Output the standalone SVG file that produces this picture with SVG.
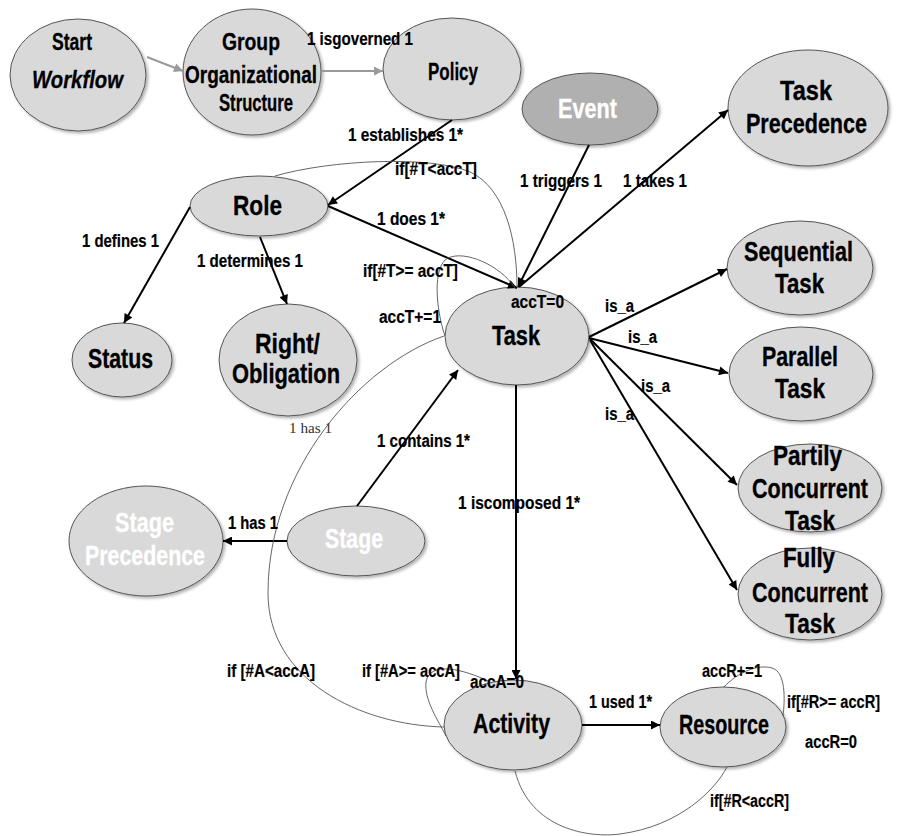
<svg xmlns="http://www.w3.org/2000/svg" width="904" height="836" viewBox="0 0 904 836">
<defs>
<style>
.nd{fill:#d9d9d9;stroke:#555;stroke-width:1;filter:url(#sh)}
.ev{fill:#b0b0b0;stroke:#555;stroke-width:1;filter:url(#sh)}
text{font-family:"Liberation Sans Narrow","Liberation Sans",Arial,sans-serif;font-weight:bold}
.n{font-size:28px;fill:#000;stroke:#000;stroke-width:0.35}
.ns{font-size:24px;fill:#000;stroke:#000;stroke-width:0.3}
.w{font-size:28px;fill:#fff;stroke:#fff;stroke-width:0.35}
.e{font-size:17.5px;fill:#000;stroke:#000;stroke-width:0.2}
.ser{font-family:"Liberation Serif","Times New Roman",serif;font-weight:normal;font-size:15px;fill:#333}
.a{fill:none;stroke:#000;stroke-width:2}
.g{fill:none;stroke:#9a9a9a;stroke-width:2}
.t{fill:none;stroke:#555;stroke-width:0.9}
</style>
<filter id="sh" x="-10%" y="-10%" width="125%" height="130%">
<feDropShadow dx="2" dy="2" stdDeviation="1.5" flood-color="#000" flood-opacity="0.3"/>
</filter>
<marker id="ar" viewBox="0 0 10 10" refX="10" refY="5" markerUnits="userSpaceOnUse" markerWidth="11" markerHeight="9" orient="auto">
<path d="M0,0 L10,5 L0,10 z" fill="#000"/>
</marker>
<marker id="ag" viewBox="0 0 10 10" refX="10" refY="5" markerUnits="userSpaceOnUse" markerWidth="11" markerHeight="9" orient="auto">
<path d="M0,0 L10,5 L0,10 z" fill="#9a9a9a"/>
</marker>
</defs>

<g id="start"><ellipse class="nd" cx="78" cy="75" rx="68" ry="56"/>
<text class="ns" x="52" y="50" textLength="40" lengthAdjust="spacingAndGlyphs">Start</text>
<text class="ns" x="32" y="88" font-style="italic" textLength="91" lengthAdjust="spacingAndGlyphs">Workflow</text></g>

<g id="group"><ellipse class="nd" cx="252" cy="72" rx="69" ry="63"/>
<text class="ns" x="222" y="50" textLength="58" lengthAdjust="spacingAndGlyphs">Group</text>
<text class="ns" x="185" y="83" textLength="132" lengthAdjust="spacingAndGlyphs">Organizational</text>
<text class="ns" x="219" y="111" textLength="74" lengthAdjust="spacingAndGlyphs">Structure</text></g>

<g id="policy"><ellipse class="nd" cx="452" cy="69" rx="69" ry="51"/>
<text class="ns" x="428" y="80" textLength="50" lengthAdjust="spacingAndGlyphs">Policy</text></g>

<g id="event"><ellipse class="ev" cx="590" cy="109" rx="68" ry="36"/>
<text class="w" x="558" y="118" textLength="59" lengthAdjust="spacingAndGlyphs">Event</text></g>

<g id="taskprecedence"><ellipse class="nd" cx="808" cy="108" rx="80" ry="58"/>
<text class="n" x="780" y="100" textLength="52" lengthAdjust="spacingAndGlyphs">Task</text>
<text class="n" x="746" y="133" textLength="121" lengthAdjust="spacingAndGlyphs">Precedence</text></g>

<g id="role"><ellipse class="nd" cx="259" cy="206" rx="69" ry="30"/>
<text class="n" x="233" y="215" textLength="49" lengthAdjust="spacingAndGlyphs">Role</text></g>

<g id="status"><ellipse class="nd" cx="122" cy="360" rx="50" ry="37"/>
<text class="n" x="88" y="368" textLength="65" lengthAdjust="spacingAndGlyphs">Status</text></g>

<g id="rightobligation"><ellipse class="nd" cx="288" cy="360" rx="69" ry="56"/>
<text class="n" x="255" y="353" textLength="65" lengthAdjust="spacingAndGlyphs">Right/</text>
<text class="n" x="232" y="383" textLength="108" lengthAdjust="spacingAndGlyphs">Obligation</text></g>

<g id="task"><ellipse class="nd" cx="517" cy="336" rx="72" ry="49"/>
<text class="n" x="492" y="345" textLength="48" lengthAdjust="spacingAndGlyphs">Task</text></g>

<g id="sequential"><ellipse class="nd" cx="800" cy="268" rx="73" ry="47"/>
<text class="n" x="744" y="261" textLength="109" lengthAdjust="spacingAndGlyphs">Sequential</text>
<text class="n" x="775" y="293" textLength="49" lengthAdjust="spacingAndGlyphs">Task</text></g>

<g id="parallel"><ellipse class="nd" cx="801" cy="374" rx="72" ry="47"/>
<text class="n" x="762" y="366" textLength="76" lengthAdjust="spacingAndGlyphs">Parallel</text>
<text class="n" x="775" y="398" textLength="50" lengthAdjust="spacingAndGlyphs">Task</text></g>

<g id="partily"><ellipse class="nd" cx="810" cy="488" rx="72" ry="44"/>
<text class="n" x="773" y="465" textLength="69" lengthAdjust="spacingAndGlyphs">Partily</text>
<text class="n" x="752" y="498" textLength="116" lengthAdjust="spacingAndGlyphs">Concurrent</text>
<text class="n" x="785" y="530" textLength="50" lengthAdjust="spacingAndGlyphs">Task</text></g>

<g id="fully"><ellipse class="nd" cx="810" cy="594" rx="72" ry="46"/>
<text class="n" x="783" y="567" textLength="52" lengthAdjust="spacingAndGlyphs">Fully</text>
<text class="n" x="752" y="602" textLength="116" lengthAdjust="spacingAndGlyphs">Concurrent</text>
<text class="n" x="785" y="633" textLength="50" lengthAdjust="spacingAndGlyphs">Task</text></g>

<g id="stageprecedence"><ellipse class="nd" cx="146" cy="541" rx="77" ry="55"/>
<text class="w" x="115" y="532" textLength="59" lengthAdjust="spacingAndGlyphs">Stage</text>
<text class="w" x="85" y="565" textLength="120" lengthAdjust="spacingAndGlyphs">Precedence</text></g>

<g id="stage"><ellipse class="nd" cx="356" cy="541" rx="69" ry="35"/>
<text class="w" x="325" y="548" textLength="58" lengthAdjust="spacingAndGlyphs">Stage</text></g>

<g id="activity"><ellipse class="nd" cx="513" cy="725" rx="69" ry="45"/>
<text class="n" x="473" y="733" textLength="77" lengthAdjust="spacingAndGlyphs">Activity</text></g>

<g id="resource"><ellipse class="nd" cx="723" cy="727" rx="63" ry="40"/>
<text class="n" x="679" y="734" textLength="90" lengthAdjust="spacingAndGlyphs">Resource</text></g>

<g id="connectors">
<path class="g" d="M147,57 L183,71" marker-end="url(#ag)"/>
<path class="g" d="M322,71 L383,71" marker-end="url(#ag)"/>
<path class="a" d="M452,120 L328,205" marker-end="url(#ar)"/>
<path class="a" d="M190,207 L124,323" marker-end="url(#ar)"/>
<path class="a" d="M260,237 L287,304" marker-end="url(#ar)"/>
<path class="a" d="M328,206 L517,288" marker-end="url(#ar)"/>
<path class="a" d="M589,145 L518,287" marker-end="url(#ar)"/>
<path class="a" d="M519,287 L728,110" marker-end="url(#ar)"/>
<path class="a" d="M589,337 L727,269" marker-end="url(#ar)"/>
<path class="a" d="M589,338 L728,373" marker-end="url(#ar)"/>
<path class="a" d="M590,339 L737,485" marker-end="url(#ar)"/>
<path class="a" d="M590,340 L737,590" marker-end="url(#ar)"/>
<path class="a" d="M516,385 L516,679" marker-end="url(#ar)"/>
<path class="a" d="M357,506 L458,370" marker-end="url(#ar)"/>
<path class="a" d="M287,541 L223,541" marker-end="url(#ar)"/>
<path class="a" d="M582,725 L660,725" marker-end="url(#ar)"/>
<path class="t" d="M275,176 C330,160 430,155 470,172 C505,188 517,240 517,287"/>
<path class="t" d="M515,288 C500,265 465,250 448,258 C432,266 436,310 445,336"/>
<path class="t" d="M444,336 C360,365 268,470 268,593 C268,680 360,725 444,727"/>
<path class="t" d="M488,681 C465,670 430,660 426,682 C424,700 438,720 446,736"/>
<path class="t" d="M724,687 C738,672 758,664 772,668 C786,672 785,700 783,716"/>
<path class="t" d="M515,771 C530,830 590,838 620,834 C680,826 715,790 727,767"/>
</g>

<g id="labels">
<text class="e" x="307" y="45" textLength="106" lengthAdjust="spacingAndGlyphs">1 isgoverned 1</text>
<text class="e" x="348" y="141" textLength="115" lengthAdjust="spacingAndGlyphs">1 establishes 1*</text>
<text class="e" x="395" y="175" textLength="82" lengthAdjust="spacingAndGlyphs">if[#T&lt;accT]</text>
<text class="e" x="377" y="225" textLength="68" lengthAdjust="spacingAndGlyphs">1 does 1*</text>
<text class="e" x="520" y="187" textLength="82" lengthAdjust="spacingAndGlyphs">1 triggers 1</text>
<text class="e" x="623" y="187" textLength="64" lengthAdjust="spacingAndGlyphs">1 takes 1</text>
<text class="e" x="82" y="247" textLength="77" lengthAdjust="spacingAndGlyphs">1 defines 1</text>
<text class="e" x="197" y="267" textLength="106" lengthAdjust="spacingAndGlyphs">1 determines 1</text>
<text class="e" x="363" y="277" textLength="95" lengthAdjust="spacingAndGlyphs">if[#T&gt;= accT]</text>
<text class="e" x="379" y="323" textLength="62" lengthAdjust="spacingAndGlyphs">accT+=1</text>
<text class="e" x="511" y="308" textLength="53" lengthAdjust="spacingAndGlyphs">accT=0</text>
<text class="e" x="605" y="312" textLength="29" lengthAdjust="spacingAndGlyphs">is_a</text>
<text class="e" x="628" y="343" textLength="29" lengthAdjust="spacingAndGlyphs">is_a</text>
<text class="e" x="641" y="392" textLength="29" lengthAdjust="spacingAndGlyphs">is_a</text>
<text class="e" x="605" y="420" textLength="29" lengthAdjust="spacingAndGlyphs">is_a</text>
<text class="ser" x="289" y="433" textLength="43" lengthAdjust="spacingAndGlyphs">1 has 1</text>
<text class="e" x="377" y="447" textLength="93" lengthAdjust="spacingAndGlyphs">1 contains 1*</text>
<text class="e" x="458" y="509" textLength="122" lengthAdjust="spacingAndGlyphs">1 iscomposed 1*</text>
<text class="e" x="228" y="529" textLength="50" lengthAdjust="spacingAndGlyphs">1 has 1</text>
<text class="e" x="227" y="677" textLength="88" lengthAdjust="spacingAndGlyphs">if [#A&lt;accA]</text>
<text class="e" x="362" y="677" textLength="98" lengthAdjust="spacingAndGlyphs">if [#A&gt;= accA]</text>
<text class="e" x="470" y="688" textLength="54" lengthAdjust="spacingAndGlyphs">accA=0</text>
<text class="e" x="589" y="708" textLength="63" lengthAdjust="spacingAndGlyphs">1 used 1*</text>
<text class="e" x="702" y="677" textLength="60" lengthAdjust="spacingAndGlyphs">accR+=1</text>
<text class="e" x="787" y="708" textLength="93" lengthAdjust="spacingAndGlyphs">if[#R&gt;= accR]</text>
<text class="e" x="805" y="748" textLength="52" lengthAdjust="spacingAndGlyphs">accR=0</text>
<text class="e" x="710" y="807" textLength="79" lengthAdjust="spacingAndGlyphs">if[#R&lt;accR]</text>
</g>
</svg>
